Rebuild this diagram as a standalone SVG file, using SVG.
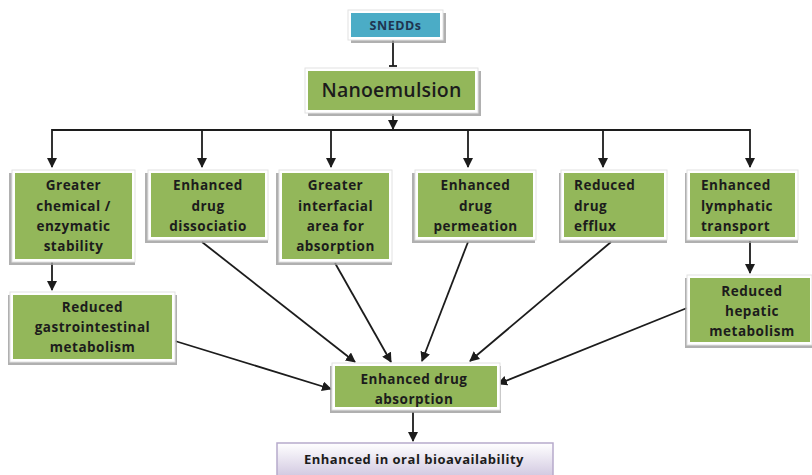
<svg xmlns="http://www.w3.org/2000/svg" width="812" height="475" viewBox="0 0 812 475">
<style>
.sh{fill:#9c9c9c;opacity:0.8}
.wb{fill:#ffffff;stroke:#e2e2e2;stroke-width:1}
.g{fill:#93b75a}
.b{fill:#4bacc6}
.t{font-family:"Open Sans","Liberation Sans",sans-serif;font-weight:700;font-size:13.5px;fill:#1c1c1c;letter-spacing:0.5px}
.c{text-anchor:middle}
.ln{stroke:#1c1c1c;stroke-width:1.8;fill:none}
</style>
<defs>
<marker id="ah" markerWidth="10" markerHeight="10" refX="9" refY="5" orient="auto" markerUnits="userSpaceOnUse">
<path d="M0,0 L10,5 L0,10 Z" fill="#1c1c1c"/>
</marker>
<linearGradient id="pg" x1="0" y1="0" x2="0" y2="1">
<stop offset="0" stop-color="#ffffff"/>
<stop offset="1" stop-color="#c9bedb"/>
</linearGradient>
<clipPath id="absclip"><rect x="335" y="366" width="162" height="41"/></clipPath>
</defs>
<rect width="812" height="475" fill="#ffffff"/>

<g id="connectors">
<line class="ln" x1="393" y1="40" x2="393" y2="66"/>
<line x1="389" y1="66" x2="397" y2="66" stroke="#1c1c1c" stroke-width="1.8"/>
<line class="ln" x1="393" y1="114" x2="393" y2="129" marker-end="url(#ah)"/>
<line class="ln" x1="52" y1="130" x2="750" y2="130"/>
<line class="ln" x1="52" y1="129" x2="52" y2="167" marker-end="url(#ah)"/>
<line class="ln" x1="750" y1="129" x2="750" y2="167" marker-end="url(#ah)"/>
<line class="ln" x1="202" y1="130" x2="202" y2="167" marker-end="url(#ah)"/>
<line class="ln" x1="331" y1="130" x2="331" y2="167" marker-end="url(#ah)"/>
<line class="ln" x1="468" y1="130" x2="468" y2="167" marker-end="url(#ah)"/>
<line class="ln" x1="603" y1="130" x2="603" y2="167" marker-end="url(#ah)"/>
<line class="ln" x1="52" y1="262" x2="52" y2="290" marker-end="url(#ah)"/>
<line class="ln" x1="750" y1="241" x2="750" y2="273" marker-end="url(#ah)"/>
<line class="ln" x1="175" y1="341" x2="331" y2="389" marker-end="url(#ah)"/>
<line class="ln" x1="202" y1="242" x2="355" y2="362" marker-end="url(#ah)"/>
<line class="ln" x1="335" y1="263" x2="391" y2="362" marker-end="url(#ah)"/>
<line class="ln" x1="468" y1="242" x2="422" y2="361" marker-end="url(#ah)"/>
<line class="ln" x1="611" y1="242" x2="470" y2="361" marker-end="url(#ah)"/>
<line class="ln" x1="687" y1="308" x2="498" y2="384" marker-end="url(#ah)"/>
<line class="ln" x1="413" y1="412" x2="413" y2="441" marker-end="url(#ah)"/>
</g>

<g id="snedds">
<rect class="sh" x="351" y="13" width="95" height="30"/>
<rect class="wb" x="348" y="10" width="95" height="30"/>
<rect class="b" x="351" y="13" width="89" height="24"/>
<text class="t c" x="395.5" y="30" style="font-size:12.5px;fill:#1f3550">SNEDDs</text>
</g>

<g id="nanoemulsion">
<rect class="sh" x="308" y="71" width="173" height="45"/>
<rect class="wb" x="305" y="68" width="173" height="45"/>
<rect class="g" x="308" y="71" width="167" height="39"/>
<text class="t c" x="391.5" y="97" style="font-size:19.5px;font-weight:600;letter-spacing:0.2px">Nanoemulsion</text>
</g>

<g id="n1">
<rect class="sh" x="9" y="173" width="126" height="92"/>
<rect class="wb" x="12" y="170" width="123" height="92"/>
<rect class="g" x="15" y="173" width="117" height="86"/>
<text class="t c" x="73.5" y="190">Greater</text>
<text class="t c" x="73.5" y="211">chemical /</text>
<text class="t c" x="73.5" y="231">enzymatic</text>
<text class="t c" x="73.5" y="251">stability</text>
</g>

<g id="n2">
<rect class="sh" x="145" y="173" width="123" height="70"/>
<rect class="wb" x="148" y="170" width="120" height="70"/>
<rect class="g" x="151" y="173" width="114" height="64"/>
<text class="t c" x="208" y="190">Enhanced</text>
<text class="t c" x="208" y="211">drug</text>
<text class="t c" x="208" y="231">dissociatio</text>
</g>

<g id="n3">
<rect class="sh" x="276" y="173" width="116" height="92"/>
<rect class="wb" x="279" y="170" width="113" height="92"/>
<rect class="g" x="282" y="173" width="107" height="86"/>
<text class="t c" x="335.5" y="190">Greater</text>
<text class="t c" x="335.5" y="211">interfacial</text>
<text class="t c" x="335.5" y="231">area for</text>
<text class="t c" x="335.5" y="251">absorption</text>
</g>

<g id="n4">
<rect class="sh" x="412" y="173" width="123" height="70"/>
<rect class="wb" x="415" y="170" width="121" height="70"/>
<rect class="g" x="418" y="173" width="115" height="64"/>
<text class="t c" x="475.5" y="190">Enhanced</text>
<text class="t c" x="475.5" y="211">drug</text>
<text class="t c" x="475.5" y="231">permeation</text>
</g>

<g id="n5">
<rect class="sh" x="559" y="173" width="108" height="70"/>
<rect class="wb" x="561" y="170" width="106" height="70"/>
<rect class="g" x="564" y="173" width="100" height="64"/>
<text class="t" x="574" y="190">Reduced</text>
<text class="t" x="574" y="211">drug</text>
<text class="t" x="574" y="231">efflux</text>
</g>

<g id="n6">
<rect class="sh" x="685" y="173" width="113" height="70"/>
<rect class="wb" x="687" y="170" width="111" height="70"/>
<rect class="g" x="690" y="173" width="105" height="64"/>
<text class="t" x="701" y="190">Enhanced</text>
<text class="t" x="701" y="211">lymphatic</text>
<text class="t" x="701" y="231">transport</text>
</g>

<g id="n7">
<rect class="sh" x="8" y="295" width="169" height="70"/>
<rect class="wb" x="10" y="292" width="165" height="70"/>
<rect class="g" x="13" y="295" width="159" height="64"/>
<text class="t c" x="92.5" y="312">Reduced</text>
<text class="t c" x="92.5" y="332">gastrointestinal</text>
<text class="t c" x="92.5" y="352">metabolism</text>
</g>

<g id="n8">
<rect class="sh" x="685" y="278" width="127" height="70"/>
<rect class="wb" x="687" y="275" width="125" height="70"/>
<rect class="g" x="690" y="278" width="120" height="64"/>
<text class="t c" x="752" y="296">Reduced</text>
<text class="t c" x="752" y="316">hepatic</text>
<text class="t c" x="752" y="336">metabolism</text>
</g>

<g id="n9">
<rect class="sh" x="330" y="366" width="171" height="47"/>
<rect class="wb" x="332" y="363" width="168" height="47"/>
<rect class="g" x="335" y="366" width="162" height="41"/>
<g clip-path="url(#absclip)">
<text class="t c" x="414" y="384">Enhanced drug</text>
<text class="t c" x="414" y="404">absorption</text>
</g>
</g>

<g id="n10">
<rect x="277" y="443" width="276" height="40" fill="url(#pg)" stroke="#b7aacb" stroke-width="1.5"/>
<text class="t c" x="414" y="464" style="font-size:13px">Enhanced in oral bioavailability</text>
</g>
</svg>
